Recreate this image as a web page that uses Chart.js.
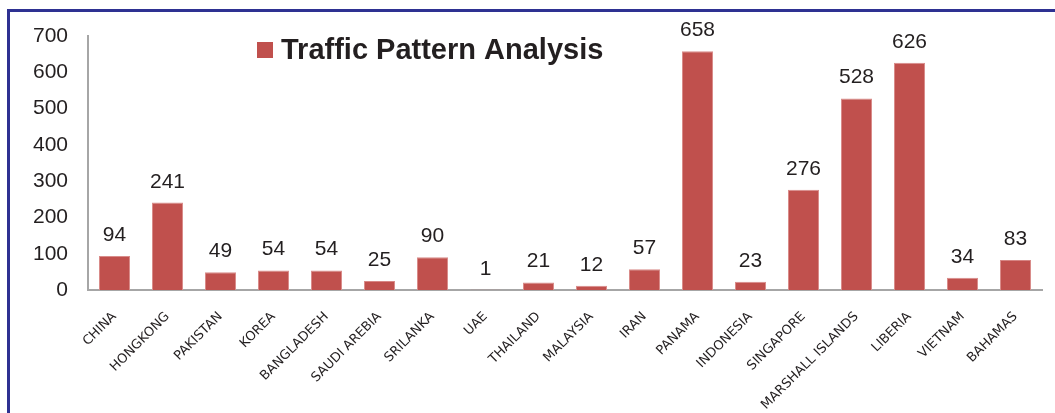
<!DOCTYPE html>
<html>
<head>
<meta charset="utf-8">
<script src="https://cdn.jsdelivr.net/npm/chart.js@4.4.1/dist/chart.umd.min.js"></script>
<style>
  html, body { margin: 0; padding: 0; background: #fff; }
  #wrap { position: relative; width: 1055px; height: 413px; overflow: hidden; }
  #frame { position: absolute; left: 7px; top: 9px; right: 0; bottom: -5px;
           border-top: 3px solid #2E3192; border-left: 3px solid #2E3192; pointer-events: none; }
  canvas { position: absolute; left: 0; top: 0; }
</style>
</head>
<body>
<div id="wrap">
  <canvas id="chart" width="1055" height="413"></canvas>
  <div id="frame"></div>
</div>
<script>
const countries = ['CHINA', 'HONGKONG', 'PAKISTAN', 'KOREA', 'BANGLADESH', 'SAUDI AREBIA', 'SRILANKA', 'UAE',
  'THAILAND', 'MALAYSIA', 'IRAN', 'PANAMA', 'INDONESIA', 'SINGAPORE', 'MARSHALL ISLANDS', 'LIBERIA', 'VIETNAM', 'BAHAMAS'];
const traffic = [94, 241, 49, 54, 54, 25, 90, 1, 21, 12, 57, 658, 23, 276, 528, 626, 34, 83];
const seriesName = 'Traffic Pattern Analysis';

const barRed = '#C0504D';

// value labels above bars + legend drawn inside plot
const labelsPlugin = {
  id: 'barLabels',
  afterDatasetsDraw(chart) {
    const ctx = chart.ctx;
    const meta = chart.getDatasetMeta(0);
    ctx.save();
    ctx.font = '21px "Liberation Sans", Arial, sans-serif';
    ctx.fillStyle = '#231F20';
    ctx.textAlign = 'center';
    ctx.textBaseline = 'alphabetic';
    meta.data.forEach((bar, i) => {
      ctx.fillText(String(traffic[i]), bar.x, bar.y - 15);
    });

    // legend
    ctx.fillStyle = barRed;
    ctx.fillRect(257, 42, 16, 16);
    ctx.fillStyle = '#231F20';
    ctx.font = 'bold 29px "Liberation Sans", Arial, sans-serif';
    ctx.textAlign = 'left';
    ctx.textBaseline = 'middle';
    ctx.fillText(seriesName, 281, 51);
    ctx.restore();
  }
};

new Chart(document.getElementById('chart'), {
  type: 'bar',
  data: {
    labels: countries,
    datasets: [{
      label: seriesName,
      data: traffic,
      backgroundColor: barRed,
      borderColor: '#D98C8A',
      borderWidth: 1,
      barPercentage: 0.585,
      categoryPercentage: 1
    }]
  },
  options: {
    responsive: false,
    animation: false,
    layout: { padding: { left: 0, right: 13, top: 36, bottom: 0 } },
    plugins: {
      legend: { display: false },
      tooltip: { enabled: false }
    },
    scales: {
      x: {
        grid: { display: false },
        border: { display: true, color: '#A6A6A6', width: 2 },
        ticks: {
          autoSkip: false,
          maxRotation: 45,
          minRotation: 45,
          padding: 11,
          color: '#231F20',
          font: { family: '"DejaVu Sans", sans-serif', size: 13 }
        },
        afterFit(scale) { scale.height = 123; }
      },
      y: {
        min: 0,
        max: 700,
        grid: { display: false },
        border: { display: true, color: '#A6A6A6', width: 2 },
        ticks: {
          stepSize: 100,
          padding: 12,
          color: '#231F20',
          font: { family: '"Liberation Sans", Arial, sans-serif', size: 21 }
        },
        afterFit(scale) { scale.width = 88; }
      }
    }
  },
  plugins: [labelsPlugin]
});
</script>
</body>
</html>
